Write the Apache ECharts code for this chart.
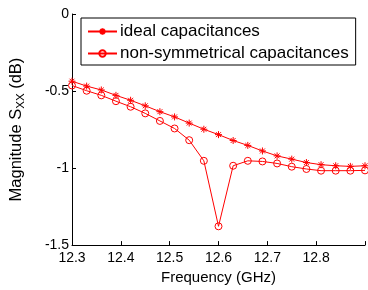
<!DOCTYPE html>
<html lang="en">
<head>
    <meta charset="UTF-8">
    <title>Magnitude Sxx</title>
    <script src="https://cdn.jsdelivr.net/npm/echarts@6/dist/echarts.min.js"></script>
    <style>
        body { margin: 0; padding: 0; background: #fff; }
        #chart { width: 368px; height: 290px; }
    </style>
</head>
<body>
<div id="chart"></div>
<script>
    // 频率 (GHz)
    const freq = [12.30, 12.33, 12.36, 12.39, 12.42, 12.45, 12.48, 12.51, 12.54, 12.57, 12.60,
                  12.63, 12.66, 12.69, 12.72, 12.75, 12.78, 12.81, 12.84, 12.87, 12.90];
    const ideal = [-0.436, -0.468, -0.493, -0.528, -0.560, -0.596, -0.634, -0.668, -0.708, -0.748, -0.783,
                   -0.821, -0.853, -0.889, -0.921, -0.942, -0.964, -0.978, -0.985, -0.989, -0.985];
    const nonSym = [-0.464, -0.498, -0.528, -0.566, -0.602, -0.645, -0.694, -0.743, -0.819, -0.953, -1.378,
                    -0.985, -0.953, -0.957, -0.970, -0.991, -1.006, -1.017, -1.017, -1.017, -1.015];
    const xTicks = [12.3, 12.4, 12.5, 12.6, 12.7, 12.8];

    const font = '"Liberation Sans", Arial, sans-serif';
    const star = 'path://M0,-5L0,5M-5,0L5,0M-3.5,-3.5L3.5,3.5M-3.5,3.5L3.5,-3.5';

    const chart = echarts.init(document.getElementById('chart'));
    chart.setOption({
        animation: false,
        textStyle: { fontFamily: font },
        grid: { left: 71, top: 14, width: 300, height: 235 },
        legend: {
            orient: 'vertical',
            left: 81, top: 18,
            padding: [5, 7, 3, 6],
            itemGap: 5,
            itemWidth: 29, itemHeight: 8,
            borderColor: '#000', borderWidth: 1,
            backgroundColor: '#fff',
            textStyle: { fontSize: 17, color: '#000', fontFamily: font, padding: [0, 0, 0, -2] },
            data: ['ideal capacitances', 'non-symmetrical capacitances']
        },
        xAxis: {
            type: 'value',
            min: 12.3, max: 12.9, interval: 0.1,
            name: 'Frequency (GHz)', nameLocation: 'middle', nameGap: 24,
            nameTextStyle: { fontSize: 15, color: '#000' },
            axisLine: { onZero: false, lineStyle: { color: '#000' } },
            axisTick: { inside: true, length: 4, lineStyle: { color: '#000' } },
            axisLabel: {
                fontSize: 14, color: '#000', margin: 6,
                formatter: v => xTicks.some(t => Math.abs(t - v) < 1e-6) ? v.toFixed(1) : ''
            },
            splitLine: { show: false }
        },
        yAxis: {
            type: 'value',
            min: -1.5, max: 0, interval: 0.5,
            name: '{a|Magnitude S}{b|XX}{a| (dB)}',
            nameLocation: 'middle', nameRotate: 90, nameGap: 45,
            nameTextStyle: {
                color: '#000',
                rich: {
                    a: { fontSize: 16.5, color: '#000', fontFamily: font },
                    b: { fontSize: 11.5, color: '#000', fontFamily: font, padding: [9, 0, 0, 0] }
                }
            },
            axisLine: { lineStyle: { color: '#000' } },
            axisTick: { inside: true, length: 4, lineStyle: { color: '#000' } },
            axisLabel: { fontSize: 14, color: '#000', margin: 3 },
            splitLine: { show: false }
        },
        series: [
            {
                name: 'ideal capacitances',
                type: 'line',
                data: freq.map((f, i) => [f, ideal[i]]),
                symbol: star, symbolSize: 7,
                lineStyle: { color: '#ff0000', width: 1 },
                itemStyle: { color: '#ff0000', borderColor: '#ff0000', borderWidth: 1 }
            },
            {
                name: 'non-symmetrical capacitances',
                type: 'line',
                data: freq.map((f, i) => [f, nonSym[i]]),
                symbol: 'circle', symbolSize: 7,
                lineStyle: { color: '#ff0000', width: 1 },
                itemStyle: { color: 'rgba(255,255,255,0)', borderColor: '#ff0000', borderWidth: 1 }
            }
        ]
    });
</script>
</body>
</html>
